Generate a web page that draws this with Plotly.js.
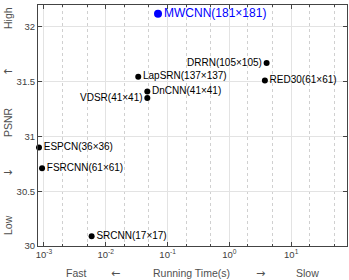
<!DOCTYPE html>
<html><head><meta charset="utf-8">
<script src="https://cdn.plot.ly/plotly-3.0.1.min.js"></script>
<style>html,body{margin:0;padding:0;background:#fff}#c{width:349px;height:280px}</style>
</head><body><div id="c"></div>
<script>
const methods = ["SRCNN(17×17)","FSRCNN(61×61)","ESPCN(36×36)","VDSR(41×41)","DnCNN(41×41)","LapSRN(137×137)","DRRN(105×105)","RED30(61×61)"];
const times = [0.0059,0.00093,0.00083,0.047,0.047,0.0335,4.0,3.75];
const psnr = [30.09,30.71,30.90,31.35,31.41,31.545,31.67,31.51];
const positions = ["middle right","middle right","middle right","middle left","middle right","middle right","middle left","middle right"];
const oursName = ["MWCNN(181×181)"];
const oursTime = [0.07];
const oursPsnr = [32.12];
const xTickVals = [0.001,0.01,0.1,1,10];
const xTickText = ["10<sup>-3</sup>","10<sup>-2</sup>","10<sup>-1</sup>","10<sup>0</sup>","10<sup>1</sup>"];
const yTickVals = [30,30.5,31,31.5,32];

const F = "Liberation Sans, Arial, sans-serif";
const FA = "DejaVu Sans, sans-serif";
const traces = [
 {x:times,y:psnr,text:methods,mode:"markers+text",type:"scatter",textposition:positions,
  marker:{color:"#000",size:6},textfont:{family:F,size:10,color:"#000"},cliponaxis:false},
 {x:oursTime,y:oursPsnr,text:oursName,mode:"markers+text",type:"scatter",textposition:"middle right",
  marker:{color:"#0000ff",size:8},textfont:{family:F,size:12,color:"#0000ff"},cliponaxis:false}
];
const W=309,H=241,L=38,T=5;
function px(x){return (x-L)/W;} function py(y){return (T+H-y)/H;}
const gc="#505050";
const ann=[];
[["Fast",76,10.5,F],["←",115,11,FA],["Running Time(s)",191,10.5,F],["→",260,11,FA],["Slow",307,10.5,F]].forEach(a=>ann.push({text:a[0],x:px(a[1]),y:py(273),xref:"paper",yref:"paper",showarrow:false,font:{family:a[3],size:a[2],color:gc},xanchor:"center",yanchor:"middle"}));
[["High",18,10.5,F],["↑",72,11,FA],["PSNR",122,10.5,F],["↓",173,11,FA],["Low",225,10.5,F]].forEach(a=>ann.push({text:a[0],x:px(8),y:py(a[1]),xref:"paper",yref:"paper",showarrow:false,textangle:-90,font:{family:a[3],size:a[2],color:gc},xanchor:"center",yanchor:"middle"}));
const layout={
 width:349,height:280,margin:{l:L,r:349-L-W,t:T,b:280-T-H},
 paper_bgcolor:"#fff",plot_bgcolor:"#fff",showlegend:false,
 font:{family:F,color:"#404040"},
 xaxis:{type:"log",range:[Math.log10(0.0008),Math.log10(80)],tickvals:xTickVals,ticktext:xTickText,
   ticks:"inside",ticklen:4,tickcolor:"#444",mirror:"allticks",showline:true,linecolor:"#444",linewidth:1,
   showgrid:true,gridcolor:"#e3e3e3",zeroline:false,tickfont:{size:9.5,family:F,color:"#404040"},
   minor:{ticks:"inside",ticklen:2,tickcolor:"#444",showgrid:true,gridcolor:"#d0d0d0",griddash:"dot",gridwidth:1}},
 yaxis:{range:[30,32.2],tickvals:yTickVals,ticktext:["30","30.5","31","31.5","32"],
   ticks:"inside",ticklen:4,tickcolor:"#444",mirror:"allticks",showline:true,linecolor:"#444",linewidth:1,
   showgrid:true,gridcolor:"#e3e3e3",zeroline:false,tickfont:{size:9.5,family:F,color:"#404040"}},
 annotations:ann
};
Plotly.newPlot("c",traces,layout,{displayModeBar:false,staticPlot:true});
</script></body></html>
